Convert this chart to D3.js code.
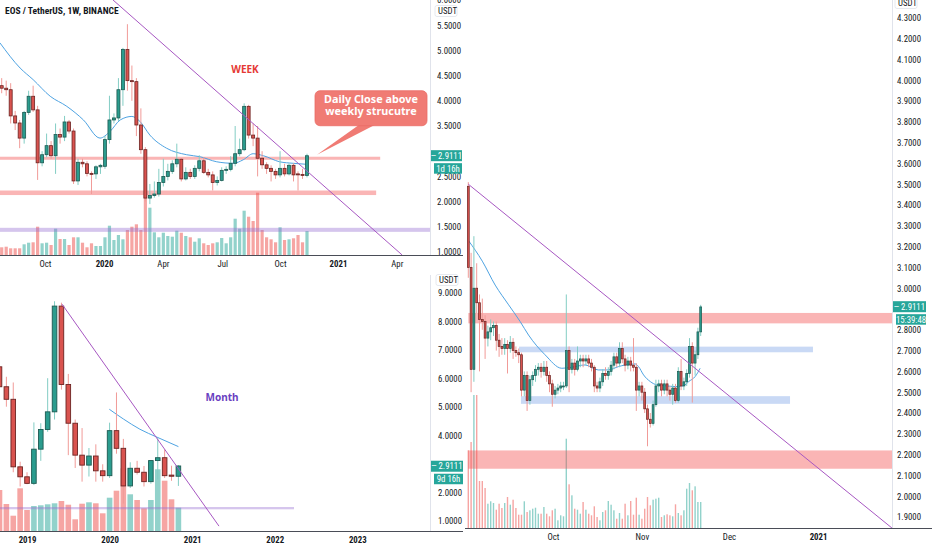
<!DOCTYPE html>
<html>
<head>
<meta charset="utf-8">
<script src="https://cdn.jsdelivr.net/npm/d3@7"></script>
<style>
  html, body { margin: 0; padding: 0; background: #fff; }
  svg text { font-family: "Liberation Sans Narrow", "Roboto Condensed", Roboto, "Noto Sans", sans-serif; }
  svg text.note { font-family: "Noto Sans", "Open Sans", sans-serif; }
</style>
</head>
<body>
<div id="chart"></div>
<script>
// ---------- weekly (1W) ----------
const weekOpen  = [4.30,4.25,4.22,3.70,3.56,3.26,3.77,4.09,3.82,2.77,2.93,3.11,2.91,3.33,3.28,3.58,3.40,2.41,2.78,2.75,2.56,2.55,2.69,2.70,3.23,3.62,3.66,4.22,5.02,4.40,4.38,3.52,3.03,2.07,2.12,2.15,2.38,2.50,2.60,2.75,2.84,2.45,2.58,2.50,2.66,2.81,2.58,2.53,2.38,2.42,2.62,2.64,2.76,2.95,3.03,3.89,3.32,3.26,2.86,2.73,2.66,2.60,2.53,2.66,2.55,2.72,2.55,2.54,2.52];
const weekHigh  = [4.45,4.40,4.35,3.80,3.62,3.80,4.20,4.30,3.90,3.00,3.35,3.20,3.55,3.45,3.70,3.62,3.45,2.85,2.85,2.80,2.60,2.72,2.75,3.30,4.10,3.75,4.45,5.05,5.52,4.70,4.45,3.85,3.08,2.35,2.40,2.65,2.85,2.75,2.82,3.15,2.86,2.68,2.65,2.72,2.92,2.88,2.65,2.60,2.50,2.68,2.70,2.90,3.50,3.25,3.95,3.92,3.55,3.50,3.00,2.78,2.72,2.65,3.00,2.75,2.76,2.76,2.60,2.65,2.95];
const weekLow   = [4.15,4.10,3.55,3.42,3.06,3.15,3.72,3.78,2.43,2.70,2.88,2.85,2.55,3.15,3.20,3.35,2.35,2.33,2.68,2.50,2.15,2.45,2.55,2.65,3.15,3.55,3.60,3.90,4.20,4.00,3.30,2.95,2.00,1.95,2.08,2.10,2.30,2.42,2.55,2.68,2.40,2.42,2.45,2.45,2.60,2.55,2.48,2.22,2.32,2.40,2.55,2.60,2.70,2.90,3.00,3.25,3.10,2.50,2.65,2.55,2.40,2.45,2.48,2.50,2.52,2.40,2.22,2.45,2.48];
const weekClose = [4.25,4.22,3.70,3.56,3.26,3.77,4.09,3.82,2.77,2.93,3.11,2.91,3.33,3.28,3.58,3.40,2.41,2.78,2.75,2.56,2.55,2.69,2.72,3.23,3.62,3.66,4.22,5.02,4.40,4.38,3.52,3.03,2.07,2.12,2.15,2.38,2.50,2.60,2.75,2.84,2.45,2.58,2.50,2.66,2.81,2.58,2.53,2.38,2.42,2.62,2.64,2.76,2.95,3.03,3.89,3.32,3.26,2.86,2.73,2.66,2.60,2.53,2.66,2.55,2.72,2.53,2.54,2.52,2.91];
const weekVolume = [7.7,8.3,6.7,6.7,6.7,10.7,12.3,12.7,28.3,11.7,12.3,10,26.3,16,16,10,17.7,17.7,12.3,7.7,11.7,9,9,17.7,29.3,15,20,15.7,25,28.3,30.7,25,62.3,47.3,22.7,17.7,22.3,19,18.3,24.3,22.3,19,17.7,13.3,16.7,11.7,10,11.7,12.7,17,11.7,17.7,36.3,26.3,44.3,38.3,34,62.3,25,17.7,15.7,12.7,27.7,15,15.7,16.7,20,12.7,24];
const weekMaIdx = [-0.4,4.1,7.0,10.8,14.5,18.2,21.9,24.1,26.4,29.0,30.8,33.0,36.7,41.2,44.2,47.9,51.6,53.8,56.0,58.3,61.9,64.9,67.9];
const weekMaVal = [5.15,4.65,4.42,4.09,3.89,3.62,3.26,3.39,3.62,3.69,3.59,3.32,3.06,2.93,2.89,2.79,2.76,2.83,2.95,2.91,2.79,2.76,2.74];
const weekTickIdx = [9.64,22.8,35.9,49.1,62.0,74.9,88.0];
const weekTickLabels = ["Oct","2020","Apr","Jul","Oct","2021","Apr"];
const weekPriceTicks = [1,1.5,2,2.5,3,3.5,4,4.5,5,5.5,6];
const weekTrendIdx = [24.8, 89.2];
const weekTrendVal = [6.0, 0.94];
const weekZoneStart = [-2, -2, -2];
const weekZoneEnd   = [84.3, 83.4, 120];
const weekZoneLow   = [2.83, 2.13, 1.40];
const weekZoneHigh  = [2.89, 2.22, 1.48];
const weekZoneKind  = ["red", "red", "purple"];

// ---------- monthly (1M) ----------
const monthOpen  = [6.40,5.70,5.26,2.89,2.54,2.31,3.51,4.20,4.82,8.53,5.78,4.42,3.30,2.95,3.27,2.75,2.58,4.16,3.54,2.22,2.84,2.70,2.37,3.11,3.21,2.60,2.56];
const monthHigh  = [6.60,6.05,5.85,3.07,2.70,4.45,4.42,6.00,8.70,8.65,6.15,4.55,4.25,3.55,3.68,2.98,4.44,5.50,3.87,3.05,3.10,2.92,3.11,3.89,3.50,2.93,2.95];
const monthLow   = [5.55,5.00,2.70,2.20,2.28,2.25,3.10,4.12,4.55,5.60,3.30,2.85,2.37,2.55,2.37,2.37,2.50,3.35,1.60,2.15,2.62,2.20,2.30,2.45,2.50,2.40,2.22];
const monthClose = [5.70,5.26,2.89,2.54,2.31,3.51,4.20,4.82,8.53,5.78,4.42,3.30,2.95,3.27,2.75,2.58,4.16,3.54,2.22,2.84,2.70,2.37,3.11,3.21,2.58,2.56,2.92];
const monthVolume = [41,27,15.3,42.7,21,25,25.7,26.7,27.7,30,26.3,11.7,27.3,28.7,27.7,17.7,33.3,40.3,62.7,36.7,31,22.7,31,61.7,50.3,31.7,23.3];
const monthMaIdx = [15.96,18.0,20.4,22.9,26.0];
const monthMaVal = [4.91,4.57,4.21,3.93,3.60];
const monthTickIdx = [4,16,28,40,52];
const monthTickLabels = ["2019","2020","2021","2022","2023"];
const monthPriceTicks = [1,2,3,4,5,6,7,8,9];
const monthTrendIdx = [9.08, 31.9];
const monthTrendVal = [8.60, 0.81];
const monthZoneStart = [-2];
const monthZoneEnd   = [42.8];
const monthZoneLow   = [1.40];
const monthZoneHigh  = [1.48];
const monthZoneKind  = ["purple"];

// ---------- daily (1D) ----------
const dayOpen  = [3.49,3.10,2.61,3.00,2.93,2.85,2.84,2.76,2.79,2.81,2.82,2.75,2.72,2.71,2.73,2.71,2.74,2.70,2.69,2.68,2.51,2.58,2.46,2.56,2.58,2.61,2.62,2.60,2.62,2.58,2.54,2.49,2.51,2.52,2.53,2.53,2.70,2.61,2.64,2.61,2.65,2.66,2.65,2.66,2.64,2.62,2.53,2.52,2.55,2.59,2.58,2.60,2.63,2.67,2.64,2.71,2.66,2.63,2.65,2.63,2.62,2.51,2.53,2.50,2.42,2.37,2.35,2.44,2.53,2.54,2.51,2.54,2.51,2.49,2.52,2.46,2.60,2.53,2.55,2.59,2.72,2.64,2.68,2.79];
const dayHigh  = [3.51,3.17,3.25,3.12,2.97,2.95,2.87,2.82,2.85,2.84,2.84,2.78,2.76,2.76,2.75,2.77,2.76,2.72,2.71,2.69,2.60,2.60,2.58,2.60,2.63,2.64,2.64,2.65,2.65,2.60,2.56,2.53,2.54,2.55,2.55,2.97,2.72,2.66,2.66,2.72,2.68,2.68,2.68,2.68,2.66,2.63,2.55,2.57,2.61,2.62,2.62,2.65,2.69,2.69,2.74,2.74,2.68,2.67,2.67,2.76,2.64,2.55,2.55,2.52,2.44,2.40,2.46,2.56,2.56,2.56,2.56,2.56,2.53,2.54,2.54,2.62,2.66,2.57,2.61,2.76,2.74,2.70,2.81,2.92];
const dayLow   = [3.05,2.50,2.55,2.88,2.60,2.80,2.66,2.72,2.75,2.77,2.70,2.67,2.68,2.68,2.59,2.69,2.66,2.67,2.64,2.48,2.48,2.41,2.44,2.53,2.55,2.58,2.57,2.58,2.55,2.50,2.43,2.47,2.49,2.50,2.51,2.52,2.50,2.59,2.58,2.60,2.62,2.62,2.63,2.62,2.60,2.50,2.50,2.50,2.53,2.56,2.56,2.58,2.61,2.62,2.62,2.64,2.60,2.61,2.60,2.60,2.41,2.48,2.46,2.40,2.24,2.33,2.34,2.43,2.50,2.48,2.49,2.48,2.46,2.44,2.45,2.45,2.51,2.51,2.53,2.57,2.45,2.58,2.66,2.77];
const dayClose = [3.10,2.61,3.00,2.93,2.85,2.84,2.76,2.79,2.81,2.82,2.75,2.72,2.71,2.73,2.71,2.74,2.70,2.69,2.68,2.51,2.58,2.46,2.56,2.58,2.61,2.62,2.60,2.62,2.58,2.54,2.49,2.51,2.52,2.53,2.53,2.70,2.61,2.64,2.61,2.65,2.66,2.65,2.66,2.64,2.62,2.53,2.52,2.55,2.59,2.58,2.60,2.63,2.67,2.64,2.71,2.66,2.63,2.65,2.63,2.62,2.51,2.53,2.50,2.42,2.37,2.35,2.44,2.53,2.54,2.51,2.54,2.51,2.49,2.52,2.46,2.60,2.53,2.55,2.59,2.72,2.64,2.68,2.79,2.91];
const dayVolume = [77.7,86,133,133,47,47,40,24.3,26.7,25,18.3,24.3,20,25,31,23.3,28.3,20,13.3,13.3,26.7,16,17.7,19.3,20.3,14.3,14.3,21,14.3,11.7,17.7,19.3,7.7,12.7,11.7,89.3,43.7,32.7,19.3,18.3,14.3,26,18.3,14.3,12.7,21.7,11,7.7,16,17.7,27,23.3,17.7,9.3,15,9.3,24.3,12.7,27,13.3,30.3,13.3,9.3,19.3,31,22.7,28.3,29.3,30.3,11,12.7,13.7,12.7,11.7,23.7,15,12.7,17.7,39.3,45,37.7,41.7,26,26];
const dayMaIdx = [0,5,9.6,14.4,18.5,21.5,27.4,33.4,37,41.7,46.4,50,53.6,56,59.6,60.8,62.6,65,67.4,70.4,74,76.9,78.7,81,82.8];
const dayMaVal = [3.23,3.13,3.015,2.92,2.84,2.775,2.68,2.615,2.62,2.631,2.607,2.607,2.623,2.631,2.636,2.623,2.583,2.551,2.535,2.531,2.527,2.531,2.551,2.575,2.615];
const dayTickIdx = [30.25,62.0,93.1,124.9];
const dayTickLabels = ["Oct","Nov","Dec","2021"];
const dayPriceTicks = [1.9,2.0,2.1,2.2,2.3,2.4,2.5,2.6,2.7,2.8,2.9,3.0,3.1,3.2,3.3,3.4,3.5,3.6,3.7,3.8,3.9,4.0,4.1,4.2,4.3];
const dayTrendIdx = [0, 151.3];
const dayTrendVal = [3.50, 1.847];
const dayZoneStart = [0, 18.1, 18.8, 0];
const dayZoneEnd   = [160, 123.1, 114.9, 160];
const dayZoneLow   = [2.831, 2.692, 2.444, 2.132];
const dayZoneHigh  = [2.881, 2.719, 2.481, 2.22];
const dayZoneKind  = ["red", "blue", "blue", "red"];

const lastPrice = 2.9111;

// ---------- style ----------
const upBody = "#2b9c8e", upBorder = "#1d5a52", upWick = "#83cdc4";
const dnBody = "#d9534f", dnBorder = "#6b2422", dnWick = "#f19b98";
const upVol = "#92d2cb", dnVol = "#f6a5a3";
const zoneFill = { red: "rgba(242,78,78,0.42)", blue: "rgba(120,160,230,0.40)", purple: "rgba(150,110,210,0.40)" };
const trendColor = "#a757c2", maColor = "#4ea3e2";
const axisText = "#131722", fs = 8.8;

const svg = d3.select("#chart").append("svg")
    .attr("width", 932)
    .attr("height", 550)
    .style("background", "#fff");

function drawPanel(p) {
    const x = d3.scaleLinear().domain(p.xDom).range(p.xRng);
    const y = d3.scaleLinear().domain(p.yDom).range(p.yRng);
    const vy = d3.scaleLinear().domain([0, 100]).range([p.bottom, p.bottom - 100]);
    const n = p.open.length;
    const up = i => p.close[i] >= p.open[i];
    const py = y(lastPrice);

    svg.append("clipPath").attr("id", "clip-" + p.name)
        .append("rect")
        .attr("x", p.left).attr("y", p.top)
        .attr("width", p.right - p.left).attr("height", p.bottom - p.top);

    const g = svg.append("g").attr("clip-path", `url(#clip-${p.name})`);

    // volume
    g.append("g").selectAll("rect").data(d3.range(n)).join("rect")
        .attr("x", i => x(i) - p.volW / 2)
        .attr("y", i => vy(p.volume[i]))
        .attr("width", p.volW)
        .attr("height", i => p.bottom - vy(p.volume[i]))
        .attr("fill", i => up(i) ? upVol : dnVol);

    // zones
    g.append("g").selectAll("rect").data(d3.range(p.zStart.length)).join("rect")
        .attr("x", i => x(p.zStart[i]))
        .attr("y", i => y(p.zHigh[i]))
        .attr("width", i => x(p.zEnd[i]) - x(p.zStart[i]))
        .attr("height", i => y(p.zLow[i]) - y(p.zHigh[i]))
        .attr("fill", i => zoneFill[p.zKind[i]]);

    // moving average
    const ma = p.maIdx.map((d, i) => [d, p.maVal[i]]);
    g.append("path")
        .attr("d", d3.line().x(d => x(d[0])).y(d => y(d[1])).curve(d3.curveMonotoneX)(ma))
        .attr("fill", "none")
        .attr("stroke", maColor)
        .attr("stroke-width", 1);

    // candles
    g.append("g").selectAll("line").data(d3.range(n)).join("line")
        .attr("x1", i => x(i)).attr("x2", i => x(i))
        .attr("y1", i => y(p.high[i])).attr("y2", i => y(p.low[i]))
        .attr("stroke", i => up(i) ? upWick : dnWick)
        .attr("stroke-width", 1);

    g.append("g").selectAll("rect").data(d3.range(n)).join("rect")
        .attr("x", i => x(i) - p.bodyW / 2)
        .attr("y", i => y(Math.max(p.open[i], p.close[i])))
        .attr("width", p.bodyW)
        .attr("height", i => Math.max(1, Math.abs(y(p.open[i]) - y(p.close[i]))))
        .attr("fill", i => up(i) ? upBody : dnBody)
        .attr("stroke", i => up(i) ? upBorder : dnBorder)
        .attr("stroke-width", p.bodyStroke);

    // trend line
    g.append("line")
        .attr("x1", x(p.tIdx[0])).attr("y1", y(p.tVal[0]))
        .attr("x2", x(p.tIdx[1])).attr("y2", y(p.tVal[1]))
        .attr("stroke", trendColor)
        .attr("stroke-width", 1);

    // price scale separator
    svg.append("line")
        .attr("x1", p.right + 0.5).attr("x2", p.right + 0.5)
        .attr("y1", p.top).attr("y2", p.bottom)
        .attr("stroke", "#e0e3eb");

    // price axis (the tick hidden behind the last-price label is left out)
    const ticks = p.priceTicks.filter(t => Math.abs(y(t) - py) > 6);
    const ya = svg.append("g")
        .attr("transform", `translate(${p.labelX},0)`)
        .call(d3.axisRight(y).tickValues(ticks).tickSize(0).tickPadding(0).tickFormat(d3.format(".4f")));
    ya.select(".domain").remove();
    ya.selectAll("text").attr("fill", axisText).style("font-size", fs + "px");

    // time axis
    const xa = svg.append("g")
        .attr("transform", `translate(0,${p.bottom})`)
        .call(d3.axisBottom(x).tickValues(p.tickIdx).tickSize(0).tickPadding(6)
            .tickFormat((d, i) => p.tickLabels[i]));
    xa.select(".domain").remove();
    xa.selectAll("text")
        .attr("fill", axisText)
        .style("font-size", fs + "px")
        .style("font-weight", (d, i) => /^\d+$/.test(p.tickLabels[i]) ? "bold" : "normal");

    svg.append("line")
        .attr("x1", p.left).attr("x2", p.lineRight)
        .attr("y1", p.bottom + 0.5).attr("y2", p.bottom + 0.5)
        .attr("stroke", "#4a4d57")
        .attr("stroke-width", 1);

    // USDT unit
    svg.append("rect")
        .attr("x", p.labelX - 2).attr("y", p.unitY - 8.5)
        .attr("width", 22).attr("height", 11).attr("rx", 2)
        .attr("fill", "#fff").attr("stroke", "#e0e3eb").attr("stroke-width", 0.8);
    svg.append("text")
        .attr("x", p.labelX + 1).attr("y", p.unitY)
        .attr("fill", axisText).style("font-size", fs + "px")
        .text("USDT");

    // last price labels
    const boxW = p.axisW;
    svg.append("rect")
        .attr("x", p.right + 1).attr("y", py - 5.5)
        .attr("width", boxW).attr("height", 11)
        .attr("fill", "#26a69a");
    svg.append("text")
        .attr("x", p.right + 1 + boxW / 2).attr("y", py + 3.2)
        .attr("text-anchor", "middle").attr("fill", "#fff")
        .style("font-size", fs + "px")
        .text("\u2012 " + lastPrice.toFixed(4));
    svg.append("rect")
        .attr("x", p.right + 4).attr("y", py + 7.5)
        .attr("width", boxW - 3).attr("height", 10.5)
        .attr("fill", "#26a69a");
    svg.append("text")
        .attr("x", p.right + 4 + (boxW - 3) / 2).attr("y", py + 15.9)
        .attr("text-anchor", "middle").attr("fill", "#fff")
        .style("font-size", fs + "px")
        .text(p.countdown);

    return { x, y };
}

const wk = drawPanel({
    name: "week", left: 0, right: 430, top: 0, bottom: 255, lineRight: 463,
    xDom: [0, 68], xRng: [1.7, 307.0], yDom: [1, 6], yRng: [252, 0],
    open: weekOpen, high: weekHigh, low: weekLow, close: weekClose, volume: weekVolume,
    maIdx: weekMaIdx, maVal: weekMaVal,
    tIdx: weekTrendIdx, tVal: weekTrendVal,
    zStart: weekZoneStart, zEnd: weekZoneEnd, zLow: weekZoneLow, zHigh: weekZoneHigh, zKind: weekZoneKind,
    tickIdx: weekTickIdx, tickLabels: weekTickLabels, priceTicks: weekPriceTicks,
    bodyW: 3, volW: 3.2, bodyStroke: 0.8,
    labelX: 437, axisW: 31, unitY: 14, countdown: "1d 16h"
});

drawPanel({
    name: "month", left: 0, right: 430, top: 275, bottom: 531, lineRight: 463,
    xDom: [0, 26], xRng: [-0.5, 178.4], yDom: [1, 9], yRng: [520.7, 292.7],
    open: monthOpen, high: monthHigh, low: monthLow, close: monthClose, volume: monthVolume,
    maIdx: monthMaIdx, maVal: monthMaVal,
    tIdx: monthTrendIdx, tVal: monthTrendVal,
    zStart: monthZoneStart, zEnd: monthZoneEnd, zLow: monthZoneLow, zHigh: monthZoneHigh, zKind: monthZoneKind,
    tickIdx: monthTickIdx, tickLabels: monthTickLabels, priceTicks: monthPriceTicks,
    bodyW: 4.6, volW: 5.6, bodyStroke: 0.9,
    labelX: 438, axisW: 32, unitY: 283, countdown: "9d 16h"
});

drawPanel({
    name: "day", left: 465, right: 892, top: 0, bottom: 528, lineRight: 932,
    xDom: [0, 83], xRng: [468.3, 700.7], yDom: [1.9, 4.3], yRng: [517, 17.8],
    open: dayOpen, high: dayHigh, low: dayLow, close: dayClose, volume: dayVolume,
    maIdx: dayMaIdx, maVal: dayMaVal,
    tIdx: dayTrendIdx, tVal: dayTrendVal,
    zStart: dayZoneStart, zEnd: dayZoneEnd, zLow: dayZoneLow, zHigh: dayZoneHigh, zKind: dayZoneKind,
    tickIdx: dayTickIdx, tickLabels: dayTickLabels, priceTicks: dayPriceTicks,
    bodyW: 1.9, volW: 1.4, bodyStroke: 0.7,
    labelX: 897, axisW: 33, unitY: 6, countdown: "15:39:48"
});

// title
svg.append("text")
    .attr("x", 5).attr("y", 14)
    .attr("fill", axisText)
    .style("font-size", "9.5px").style("font-weight", "bold")
    .text("EOS / TetherUS, 1W, BINANCE");

// text notes
svg.append("text").attr("class", "note")
    .attr("x", 245).attr("y", 73)
    .attr("text-anchor", "middle")
    .attr("fill", "#e53935")
    .style("font-size", "10px").style("font-weight", "bold")
    .text("WEEK");

svg.append("text").attr("class", "note")
    .attr("x", 222).attr("y", 401)
    .attr("text-anchor", "middle")
    .attr("fill", "#6a3fc1")
    .style("font-size", "10px").style("font-weight", "bold")
    .text("Month");

// callout pointing at the last weekly close
const tipX = wk.x(68) + 10, tipY = wk.y(2.93);
const callout = svg.append("g");
callout.append("path")
    .attr("d", `M${tipX + 45},${tipY - 32} L${tipX},${tipY} L${tipX + 62},${tipY - 32} Z`)
    .attr("fill", "#f07b74");
callout.append("rect")
    .attr("x", tipX - 2).attr("y", tipY - 64)
    .attr("width", 112).attr("height", 35)
    .attr("rx", 5)
    .attr("fill", "#f07b74")
    .attr("stroke", "#ea6d66")
    .attr("stroke-width", 0.8);
callout.selectAll("text").data(["Daily Close above", "weekly strucutre"]).join("text")
    .attr("class", "note")
    .attr("x", tipX + 54).attr("y", (d, i) => tipY - 52 + i * 12.2)
    .attr("text-anchor", "middle")
    .attr("fill", "#fff")
    .style("font-size", "10.8px").style("font-weight", "bold")
    .text(d => d);
</script>
</body>
</html>
